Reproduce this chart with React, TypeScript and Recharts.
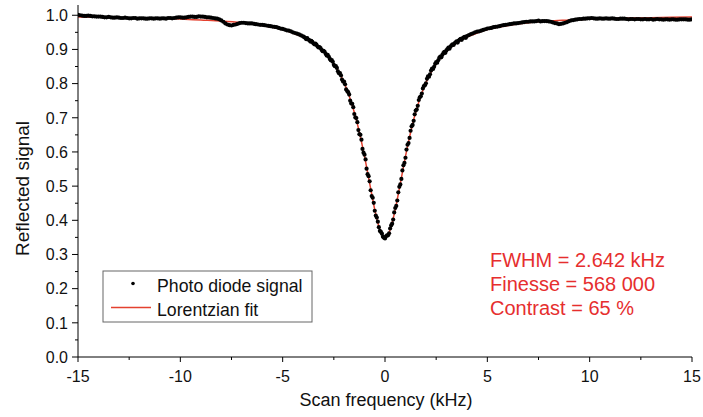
import React from 'react';
import { ComposedChart, Scatter, Line, XAxis, YAxis, Customized } from 'recharts';

// ---- Photo diode signal ----
const diodeFreqLeft = [
  -15.0, -14.8, -14.6, -14.4, -14.2, -14.0, -13.8, -13.6, -13.4, -13.2,
  -13.0, -12.8, -12.6, -12.4, -12.2, -12.0, -11.8, -11.6, -11.4, -11.2,
  -11.0, -10.8, -10.6, -10.4, -10.2, -10.0, -9.8, -9.6, -9.4, -9.2,
  -9.0, -8.8, -8.6, -8.4, -8.2, -8.0, -7.8, -7.6, -7.4, -7.2,
  -7.0, -6.8, -6.6, -6.4, -6.2, -6.0, -5.8, -5.6, -5.4, -5.2,
  -5.0, -4.8, -4.6, -4.4, -4.2,
];
const diodeSignalLeft = [
  1.001, 0.999, 0.998, 0.998, 0.997, 0.996, 0.995, 0.994, 0.994, 0.993,
  0.993, 0.992, 0.992, 0.991, 0.992, 0.991, 0.991, 0.990, 0.991, 0.991,
  0.990, 0.991, 0.992, 0.991, 0.993, 0.994, 0.993, 0.995, 0.996, 0.995,
  0.996, 0.995, 0.994, 0.992, 0.990, 0.985, 0.976, 0.971, 0.972, 0.975,
  0.978, 0.977, 0.976, 0.975, 0.973, 0.972, 0.970, 0.968, 0.966, 0.963,
  0.960, 0.956, 0.953, 0.948, 0.944,
];
const diodeFreqLeftMid = [
  -14.9, -14.7, -14.5, -14.3, -14.1, -13.9, -13.7, -13.5, -13.3, -13.1,
  -12.9, -12.7, -12.5, -12.3, -12.1, -11.9, -11.7, -11.5, -11.3, -11.1,
  -10.9, -10.7, -10.5, -10.3, -10.1, -9.9, -9.7, -9.5, -9.3, -9.1,
  -8.9, -8.7, -8.5, -8.3, -8.1, -7.9, -7.7, -7.5, -7.3, -7.1,
  -6.9, -6.7, -6.5, -6.3, -6.1, -5.9, -5.7, -5.5, -5.3, -5.1,
  -4.9, -4.7, -4.5, -4.3, -4.1,
];
const diodeSignalLeftMid = [
  1.000, 0.998, 0.999, 0.997, 0.996, 0.996, 0.994, 0.995, 0.993, 0.994,
  0.992, 0.993, 0.991, 0.992, 0.990, 0.991, 0.990, 0.991, 0.990, 0.991,
  0.991, 0.990, 0.992, 0.992, 0.994, 0.993, 0.994, 0.996, 0.995, 0.997,
  0.996, 0.994, 0.993, 0.991, 0.988, 0.981, 0.973, 0.970, 0.973, 0.977,
  0.978, 0.976, 0.976, 0.974, 0.972, 0.971, 0.969, 0.967, 0.965, 0.961,
  0.958, 0.955, 0.950, 0.946, 0.941,
];
const diodeFreqCenter = [
  -4.0, -3.9, -3.8, -3.7, -3.6, -3.5, -3.4, -3.3, -3.2, -3.1,
  -3.0, -2.9, -2.8, -2.7, -2.6, -2.5, -2.4, -2.3, -2.2, -2.1,
  -2.0, -1.9, -1.8, -1.7, -1.6, -1.5, -1.4, -1.3, -1.2, -1.1,
  -1.0, -0.9, -0.8, -0.7, -0.6, -0.5, -0.4, -0.3, -0.2, -0.1,
  0.0, 0.1, 0.2, 0.3, 0.4, 0.5, 0.6, 0.7, 0.8, 0.9,
  1.0, 1.1, 1.2, 1.3, 1.4, 1.5, 1.6, 1.7, 1.8, 1.9,
  2.0, 2.1, 2.2, 2.3, 2.4, 2.5, 2.6, 2.7, 2.8, 2.9,
  3.0, 3.1, 3.2, 3.3, 3.4, 3.5, 3.6, 3.7, 3.8, 3.9,
  4.0,
];
const diodeSignalCenter = [
  0.938, 0.934, 0.933, 0.927, 0.925, 0.918, 0.917, 0.909, 0.907, 0.899,
  0.896, 0.887, 0.884, 0.873, 0.869, 0.855, 0.851, 0.836, 0.831, 0.812,
  0.806, 0.783, 0.775, 0.750, 0.741, 0.711, 0.699, 0.664, 0.650, 0.609,
  0.592, 0.551, 0.529, 0.488, 0.466, 0.428, 0.408, 0.380, 0.366, 0.352,
  0.347, 0.356, 0.362, 0.385, 0.402, 0.436, 0.458, 0.498, 0.521, 0.561,
  0.583, 0.621, 0.641, 0.675, 0.691, 0.721, 0.735, 0.760, 0.771, 0.793,
  0.801, 0.821, 0.827, 0.844, 0.849, 0.863, 0.868, 0.879, 0.884, 0.893,
  0.897, 0.905, 0.908, 0.915, 0.918, 0.924, 0.926, 0.931, 0.933, 0.937,
  0.939,
];
const diodeFreqCenterMid = [
  -3.95, -3.85, -3.75, -3.65, -3.55, -3.45, -3.35, -3.25, -3.15, -3.05,
  -2.95, -2.85, -2.75, -2.65, -2.55, -2.45, -2.35, -2.25, -2.15, -2.05,
  -1.95, -1.85, -1.75, -1.65, -1.55, -1.45, -1.35, -1.25, -1.15, -1.05,
  -0.95, -0.85, -0.75, -0.65, -0.55, -0.45, -0.35, -0.25, -0.15, -0.05,
  0.05, 0.15, 0.25, 0.35, 0.45, 0.55, 0.65, 0.75, 0.85, 0.95,
  1.05, 1.15, 1.25, 1.35, 1.45, 1.55, 1.65, 1.75, 1.85, 1.95,
  2.05, 2.15, 2.25, 2.35, 2.45, 2.55, 2.65, 2.75, 2.85, 2.95,
  3.05, 3.15, 3.25, 3.35, 3.45, 3.55, 3.65, 3.75, 3.85, 3.95,
];
const diodeSignalCenterMid = [
  0.936, 0.930, 0.929, 0.923, 0.922, 0.915, 0.914, 0.906, 0.904, 0.895,
  0.893, 0.882, 0.879, 0.868, 0.864, 0.851, 0.846, 0.830, 0.824, 0.806,
  0.798, 0.778, 0.768, 0.742, 0.731, 0.701, 0.687, 0.652, 0.636, 0.598,
  0.578, 0.535, 0.514, 0.471, 0.451, 0.414, 0.396, 0.369, 0.361, 0.349,
  0.353, 0.356, 0.376, 0.390, 0.423, 0.442, 0.482, 0.505, 0.546, 0.568,
  0.607, 0.626, 0.662, 0.679, 0.710, 0.724, 0.752, 0.763, 0.786, 0.795,
  0.814, 0.820, 0.838, 0.843, 0.858, 0.861, 0.875, 0.877, 0.889, 0.890,
  0.901, 0.902, 0.912, 0.913, 0.921, 0.920, 0.929, 0.928, 0.935, 0.934,
];
const diodeFreqRight = [
  4.2, 4.4, 4.6, 4.8, 5.0, 5.2, 5.4, 5.6, 5.8, 6.0,
  6.2, 6.4, 6.6, 6.8, 7.0, 7.2, 7.4, 7.6, 7.8, 8.0,
  8.2, 8.4, 8.6, 8.8, 9.0, 9.2, 9.4, 9.6, 9.8, 10.0,
  10.2, 10.4, 10.6, 10.8, 11.0, 11.2, 11.4, 11.6, 11.8, 12.0,
  12.2, 12.4, 12.6, 12.8, 13.0, 13.2, 13.4, 13.6, 13.8, 14.0,
  14.2, 14.4, 14.6, 14.8, 15.0,
];
const diodeSignalRight = [
  0.945, 0.950, 0.953, 0.957, 0.961, 0.963, 0.966, 0.968, 0.971, 0.973,
  0.975, 0.976, 0.978, 0.980, 0.981, 0.982, 0.983, 0.982, 0.983, 0.982,
  0.979, 0.976, 0.975, 0.978, 0.983, 0.986, 0.988, 0.989, 0.990, 0.991,
  0.991, 0.990, 0.990, 0.991, 0.990, 0.990, 0.989, 0.990, 0.989, 0.989,
  0.988, 0.989, 0.988, 0.988, 0.989, 0.988, 0.988, 0.987, 0.988, 0.988,
  0.987, 0.988, 0.988, 0.987, 0.988,
];
const diodeFreqRightMid = [
  4.1, 4.3, 4.5, 4.7, 4.9, 5.1, 5.3, 5.5, 5.7, 5.9,
  6.1, 6.3, 6.5, 6.7, 6.9, 7.1, 7.3, 7.5, 7.7, 7.9,
  8.1, 8.3, 8.5, 8.7, 8.9, 9.1, 9.3, 9.5, 9.7, 9.9,
  10.1, 10.3, 10.5, 10.7, 10.9, 11.1, 11.3, 11.5, 11.7, 11.9,
  12.1, 12.3, 12.5, 12.7, 12.9, 13.1, 13.3, 13.5, 13.7, 13.9,
  14.1, 14.3, 14.5, 14.7, 14.9,
];
const diodeSignalRightMid = [
  0.942, 0.947, 0.952, 0.955, 0.959, 0.962, 0.965, 0.967, 0.970, 0.972,
  0.974, 0.976, 0.977, 0.979, 0.981, 0.982, 0.982, 0.984, 0.983, 0.983,
  0.981, 0.977, 0.974, 0.976, 0.980, 0.985, 0.987, 0.989, 0.990, 0.991,
  0.992, 0.990, 0.991, 0.990, 0.990, 0.991, 0.989, 0.990, 0.990, 0.988,
  0.989, 0.989, 0.988, 0.989, 0.988, 0.987, 0.989, 0.988, 0.988, 0.987,
  0.988, 0.987, 0.988, 0.988, 0.987,
];

// ---- Lorentzian fit ----
const fitFreq = [
  -15, -14, -13, -12, -11, -10, -9, -8, -7, -6, -5, -4.5, -4, -3.5, -3, -2.75,
  -2.5, -2.25, -2, -1.75, -1.5, -1.375, -1.25, -1.125, -1, -0.875, -0.75,
  -0.625, -0.5, -0.375, -0.25, -0.125, 0, 0.125, 0.25, 0.375, 0.5, 0.625,
  0.75, 0.875, 1, 1.125, 1.25, 1.375, 1.5, 1.75, 2, 2.25, 2.5, 2.75, 3, 3.5,
  4, 4.5, 5, 6, 7, 8, 9, 10, 11, 12, 13, 14, 15,
];
const fitSignal = [
  0.995, 0.994, 0.993, 0.992, 0.991, 0.989, 0.986, 0.983, 0.978, 0.970, 0.958, 0.948, 0.936, 0.919, 0.894, 0.878,
  0.858, 0.833, 0.803, 0.764, 0.716, 0.688, 0.657, 0.623, 0.587, 0.548, 0.508,
  0.469, 0.431, 0.399, 0.372, 0.356, 0.350, 0.356, 0.372, 0.399, 0.431, 0.469,
  0.508, 0.548, 0.587, 0.623, 0.657, 0.688, 0.716, 0.764, 0.803, 0.833, 0.858, 0.878, 0.894, 0.919,
  0.936, 0.948, 0.958, 0.970, 0.978, 0.983, 0.986, 0.989, 0.991, 0.992, 0.993, 0.994, 0.995,
];

// ---- Axes & text ----
const xMajorTicks = [-15, -10, -5, 0, 5, 10, 15];
const xMinorTicks = [-12.5, -7.5, -2.5, 2.5, 7.5, 12.5];
const yMajorTicks = [0, 0.1, 0.2, 0.3, 0.4, 0.5, 0.6, 0.7, 0.8, 0.9, 1.0];
const yMinorTicks = [0.05, 0.15, 0.25, 0.35, 0.45, 0.55, 0.65, 0.75, 0.85, 0.95];
const xTitle = 'Scan frequency (kHz)';
const yTitle = 'Reflected signal';
const legendLabels = ['Photo diode signal', 'Lorentzian fit'];
const fitResults = ['FWHM = 2.642 kHz', 'Finesse = 568 000', 'Contrast = 65 %'];

const FONT = '"Liberation Sans", Arial, Helvetica, sans-serif';
const FIT_COLOR = '#e4412f';
const TEXT_RED = '#e62e2e';

const pair = (xs: number[], ys: number[]) => xs.map((x, i) => ({ x, y: ys[i] }));
const diodeData = [
  ...pair(diodeFreqLeft, diodeSignalLeft),
  ...pair(diodeFreqLeftMid, diodeSignalLeftMid),
  ...pair(diodeFreqCenter, diodeSignalCenter),
  ...pair(diodeFreqCenterMid, diodeSignalCenterMid),
  ...pair(diodeFreqRight, diodeSignalRight),
  ...pair(diodeFreqRightMid, diodeSignalRightMid),
].filter((d) => typeof d.y === 'number');
const fitData = pair(fitFreq, fitSignal);

const xTicksAll = [...xMajorTicks, ...xMinorTicks].sort((a, b) => a - b);
const yTicksAll = [...yMajorTicks, ...yMinorTicks].sort((a, b) => a - b);

const isMajor = (list: number[], v: number) => list.some((t) => Math.abs(t - v) < 1e-6);

const XTick = (props: any) => {
  const { x, y, payload } = props;
  const major = isMajor(xMajorTicks, payload.value);
  return (
    <g>
      <line x1={x} x2={x} y1={y} y2={y + (major ? 5 : 3)} stroke="#000" strokeWidth={1} />
      {major && (
        <text x={x} y={y + 24.5} textAnchor="middle" fontFamily={FONT} fontSize={16} fill="#111">
          {String(payload.value)}
        </text>
      )}
    </g>
  );
};

const YTick = (props: any) => {
  const { x, y, payload } = props;
  const major = isMajor(yMajorTicks, payload.value);
  return (
    <g>
      <line x1={x - (major ? 6 : 3)} x2={x} y1={y} y2={y} stroke="#000" strokeWidth={1} />
      {major && (
        <text x={x - 10} y={y} dy="0.36em" textAnchor="end" fontFamily={FONT} fontSize={16} fill="#111">
          {Number(payload.value).toFixed(1)}
        </text>
      )}
    </g>
  );
};

const Overlay = () => (
  <g fontFamily={FONT}>
    <text x={386} y={406} textAnchor="middle" fontSize={18} fill="#111">{xTitle}</text>
    <text x={28.5} y={188.5} textAnchor="middle" fontSize={19} fill="#111" transform="rotate(-90 28.5 188.5)">
      {yTitle}
    </text>
    <rect x={103} y={271} width={209} height={51} fill="#fff" stroke="#666" strokeWidth={1} />
    <circle cx={133} cy={283.5} r={1.8} fill="#000" />
    <line x1={111} x2={151} y1={307.5} y2={307.5} stroke={FIT_COLOR} strokeWidth={1.5} />
    <text x={157} y={292} fontSize={17.7} fill="#111">{legendLabels[0]}</text>
    <text x={157} y={316} fontSize={17.7} fill="#111">{legendLabels[1]}</text>
    {fitResults.map((t, i) => (
      <text key={t} x={490} y={266.5 + i * 24.2} fontSize={20} fill={TEXT_RED}>{t}</text>
    ))}
  </g>
);

const Dot = (props: any) => <circle cx={props.cx} cy={props.cy} r={2.1} fill="#000" />;

export default function App() {
  return (
    <div style={{ position: 'absolute', left: 0, top: 0, background: '#fff' }}>
      <ComposedChart
        width={703}
        height={417}
        margin={{ top: 5, right: 11, bottom: 0, left: 0 }}
        style={{ background: '#fff' }}
      >
        <XAxis
          type="number"
          dataKey="x"
          domain={[-15, 15]}
          ticks={xTicksAll}
          interval={0}
          allowDataOverflow
          tickLine={false}
          tickSize={0}
          tickMargin={0}
          tick={XTick}
          axisLine={{ stroke: '#000', strokeWidth: 1 }}
          height={60}
        />
        <YAxis
          type="number"
          dataKey="y"
          domain={[0, 1.03]}
          ticks={yTicksAll}
          interval={0}
          allowDataOverflow
          tickLine={false}
          tickSize={0}
          tickMargin={0}
          tick={YTick}
          axisLine={{ stroke: '#000', strokeWidth: 1 }}
          width={78}
        />
        <Scatter data={diodeData} dataKey="y" shape={Dot} isAnimationActive={false} />
        <Line
          data={fitData}
          dataKey="y"
          type="monotone"
          stroke={FIT_COLOR}
          strokeWidth={1.5}
          dot={false}
          activeDot={false}
          isAnimationActive={false}
        />
        <Customized component={Overlay} />
      </ComposedChart>
    </div>
  );
}
